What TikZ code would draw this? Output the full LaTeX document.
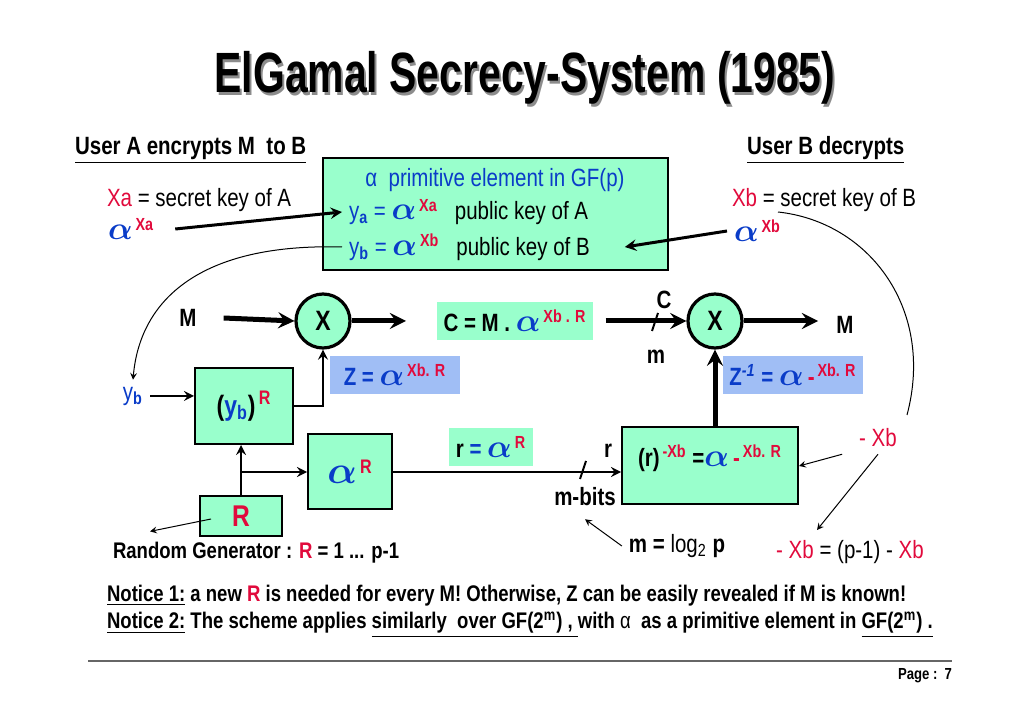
\documentclass[tikz,border=0pt]{standalone}
\usepackage{fontspec}
\usepackage{xcolor}
\setmainfont{Liberation Sans}[FakeStretch=0.82]
\newfontfamily\titlefont{Liberation Sans}[FakeStretch=0.72]
\definecolor{mint}{RGB}{153,255,204}
\definecolor{zblue}{RGB}{160,190,245}
\definecolor{kred}{RGB}{225,10,60}
\definecolor{kblue}{RGB}{10,60,200}
\newcommand{\nsize}{\fontsize{12.5}{15}\selectfont}
\newcommand{\tsize}{\fontsize{28.4}{32}\selectfont}
\newcommand{\qsize}{\fontsize{11.3}{13}\selectfont}
\newcommand{\al}{\textcolor{kblue}{\scalebox{1.35}{\boldmath$\alpha$}}}
\newcommand{\hi}[1]{\textsuperscript{\bfseries\color{kred}\,#1}}
\tikzstyle{blk}=[draw, line width=1pt, fill=mint, inner sep=0pt]
\tikzstyle{tag}=[font=\nsize\bfseries]
\tikzstyle{mul}=[circle, draw, line width=1.6pt, fill=mint, minimum size=27pt, inner sep=0pt, font=\fontsize{14}{16}\selectfont\bfseries]
\tikzstyle{fat}=[line width=2.5pt, ->, >=stealth]
\tikzstyle{medarrow}=[line width=1.2pt, ->, >=stealth]
\tikzstyle{slim}=[line width=0.5pt, ->, >=stealth]

\begin{document}
\begin{tikzpicture}[x=0.5pt,y=-0.5pt,every node/.style={font=\nsize}]
  \useasboundingbox (0,0) rectangle (1024,711);
  \node[text=black!45, font=\titlefont\tsize\bfseries] (shadow) at (527,81) {ElGamal Secrecy-System (1985)};
  \node[font=\titlefont\tsize\bfseries] (title) at (525,78) {ElGamal Secrecy-System (1985)};
  \node[anchor=west, tag] (usera) at (68,150) {\underline{User A encrypts M\ \ to B}};
  \node[anchor=west, tag] (userb) at (740,150) {\underline{User B decrypts}};

  \node[blk, minimum width=172.5pt, minimum height=56pt] (keys) at (495.5,214) {};
  \node[text=kblue] (prim) at (495,180) {α\ \ primitive element in GF(p)};
  \node[anchor=west] (ya) at (342,212) {\textcolor{kblue}{y\textsubscript{\bfseries a} = }\al\hi{Xa}\ \ \ public key of A};
  \node[anchor=west] (yb) at (342,247) {\textcolor{kblue}{y\textsubscript{\bfseries b} = }\al\hi{Xb}\ \ \ public key of B};

  \node[anchor=west] (xa) at (100,200) {\textcolor{kred}{Xa} = secret key of A};
  \node[anchor=west] (alxa) at (101,229) {\al\hi{Xa}};
  \node[anchor=west] (xb) at (725,200) {\textcolor{kred}{Xb} = secret key of B};
  \node[anchor=west] (alxb) at (727,231) {\al\hi{Xb}};
  \draw[line width=1.5pt, ->, >=stealth] ([xshift=7pt]alxa.east) -- (ya.west);
  \draw[line width=1.5pt, ->, >=stealth] (alxb.west) -- ([xshift=14pt]yb.east);

  \node[text=kblue] (ybin) at (133,396) {y\textsubscript{\bfseries b}};
  \draw[slim] (yb.west) .. controls (200,243) and (140,300) .. (ybin.north);
  \coordinate (xbfoot) at (778,212);
  \coordinate (xbend) at (907,415);
  \draw[line width=0.5pt] (xbfoot) .. controls (870,222) and (935,310) .. (xbend);

  \node[tag] (min) at (188,318) {M};
  \node[mul] (mul1) at (323,321) {X};
  \draw[fat] ([xshift=10pt]min.east) -- (mul1.west);
  \node[fill=mint, minimum width=75pt, minimum height=19pt, tag] (cbox) at (515,321) {C = M . \al\hi{Xb . R}};
  \coordinate (cout) at (406,321);
  \draw[fat] (mul1.east) -- (cout);
  \node[mul] (mul2) at (715,321) {X};
  \draw[fat] ([xshift=6pt]cbox.east) -- (mul2.west);
  \draw[line width=1pt] (652,331) -- (658,313);
  \node[tag] (clbl) at (664,300) {C};
  \node[tag] (mlbl) at (656,357) {m};
  \coordinate (mout) at (818,321);
  \draw[fat] (mul2.east) -- (mout);
  \node[tag] (mres) at (845,325) {M};

  \node[fill=zblue, minimum width=65pt, minimum height=19pt] (zbox) at (395,375) {\textcolor{kblue}{\bfseries Z =} \al\hi{Xb. R}};
  \node[fill=zblue, minimum width=68.5pt, minimum height=19pt] (zinv) at (793,375) {\textcolor{kblue}{\bfseries Z\textsuperscript{\itshape -1} =} \al\,\textcolor{kred}{\bfseries -}\hi{Xb. R}};

  \node[blk, minimum width=49pt, minimum height=38pt, font=\fontsize{14}{16}\selectfont\bfseries] (ybbox) at (244,406) {(\textcolor{kblue}{y\textsubscript{b}})\hi{R}};
  \draw[medarrow] (ybin.east) -- (ybin.east -| ybbox.west);
  \draw[medarrow] (ybbox.east) -| (mul1.south);

  \node[blk, minimum width=42pt, minimum height=37.5pt] (arbox) at (350,472) {\fontsize{14}{18}\selectfont\al\hi{R}};
  \node[blk, minimum width=41pt, minimum height=20pt, text=kred, font=\fontsize{15}{18}\selectfont\bfseries] (rbox) at (241,516) {R};
  \draw[medarrow] (rbox.north) -- (rbox.north |- ybbox.south);
  \draw[medarrow] (rbox.north |- arbox.west) -- (arbox.west);
  \node[fill=mint, minimum width=40pt, minimum height=19pt, tag] (rlbl) at (491,447) {r \textcolor{kblue}{=} \al\hi{R}};

  \node[blk, minimum width=88pt, minimum height=38.5pt] (rxbox) at (710,466) {};
  \node[tag] (rxtxt) at (710,458) {(r)\hi{-Xb} =\al\,\textcolor{kred}{-}\hi{Xb. R}};
  \draw[medarrow] (arbox.east) -- (arbox.east -| rxbox.west);
  \draw[line width=1pt] (580,479) -- (586,461);
  \node[tag] (rin) at (608,451) {r};
  \node[tag] (mbits) at (585,497) {m-bits};
  \draw[fat] (mul2.south |- rxbox.north) -- (mul2.south);

  \node[text=kred] (nxb) at (878,438) {- Xb};
  \node (xbeq) at (850,552) {\textcolor{kred}{- Xb} = (p-1) - \textcolor{kred}{Xb}};
  \coordinate (xbeqtop) at (817,530);
  \draw[slim] ([xshift=-5pt]nxb.south west) -- (rxbox.east);
  \draw[slim] (nxb.south) -- (xbeqtop);
  \node (mlog) at (677,546) {\textbf{m =} log\textsubscript{2} \textbf{p}};
  \draw[slim] (mlog.west) -- ([yshift=-3pt]mbits.south);

  \node[anchor=west, font=\qsize\bfseries] (rgen) at (106,553) {Random Generator : \textcolor{kred}{R} = 1 ... p-1};
  \draw[slim] ([xshift=-15pt,yshift=-1.5pt]rbox.center) -- ([xshift=22pt,yshift=2pt]rgen.north west);

  \node[anchor=west, font=\qsize\bfseries] (note1) at (100,596) {\underline{Notice 1:} a new \textcolor{kred}{R} is needed for every M! Otherwise, Z can be easily revealed if M is known!};
  \node[anchor=west, font=\qsize\bfseries] (note2) at (100,625) {\underline{Notice 2:} The scheme applies \underline{similarly\ \ over GF(2\textsuperscript{m}) , }with \textmd{α}\ \ as a primitive element in \underline{GF(2\textsuperscript{m}) .}};

  \draw[black!60, line width=0.6pt] (88,661) -- (952,661);
  \node[font=\fontsize{8}{9}\selectfont\bfseries] (page) at (925,676) {Page :\ \ 7};
\end{tikzpicture}
\end{document}
